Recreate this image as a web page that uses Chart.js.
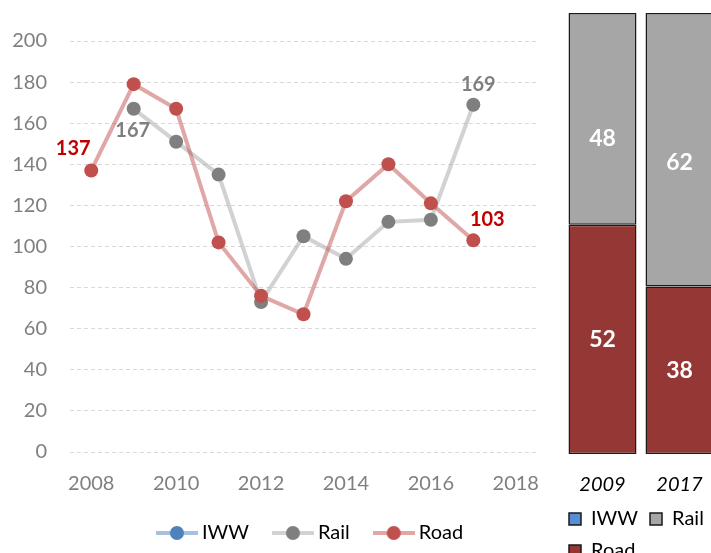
<!DOCTYPE html>
<html>
<head>
<meta charset="utf-8">
<script src="https://cdn.jsdelivr.net/npm/chart.js@4"></script>
<style>
  html, body { margin: 0; padding: 0; background: #fff; overflow: hidden; width: 711px; height: 553px; }
  canvas { position: absolute; top: 0; }
  #trendChart { left: 0; }
  #shareChart { left: 555px; }
</style>
</head>
<body>
<canvas id="trendChart" width="625" height="553"></canvas>
<canvas id="shareChart" width="200" height="553"></canvas>
<script>
// line chart data (left)
const years = ["2008", "2009", "2010", "2011", "2012", "2013", "2014", "2015", "2016", "2017", "2018"];
const iwwValues = [null, null, null, null, null, null, null, null, null, null, null];
const railValues = [null, 167, 151, 135, 73, 105, 94, 112, 113, 169, null];
const roadValues = [137, 179, 167, 102, 76, 67, 122, 140, 121, 103, null];
const yTicks = [0, 20, 40, 60, 80, 100, 120, 140, 160, 180, 200];

// share bars data (right)
const shareYears = ["2009", "2017"];
const iwwShare = [null, null];
const railShare = [48, 62];
const roadShare = [52, 38];

const FONT = "Lato, 'Open Sans', sans-serif";

// small line+dot icons for the line chart legend
function legendIcon(lineColor, dotColor) {
    const c = document.createElement("canvas");
    c.width = 42; c.height = 16;
    const ctx = c.getContext("2d");
    ctx.strokeStyle = lineColor;
    ctx.lineWidth = 4;
    ctx.beginPath(); ctx.moveTo(0, 8); ctx.lineTo(42, 8); ctx.stroke();
    ctx.fillStyle = dotColor;
    ctx.beginPath(); ctx.arc(21, 8, 7, 0, Math.PI * 2); ctx.fill();
    return c;
}

const trendColors = [
    { line: "rgba(79,129,189,0.5)", dot: "#4F81BD" },
    { line: "rgba(166,166,166,0.5)", dot: "#7F7F7F" },
    { line: "rgba(192,80,77,0.5)", dot: "#C0504D" }
];
const icons = trendColors.map((c) => legendIcon(c.line, c.dot));

// value labels next to chosen points
const pointLabels = {
    id: "pointLabels",
    afterDatasetsDraw(chart, args, opts) {
        const ctx = chart.ctx;
        ctx.save();
        ctx.font = opts.font;
        ctx.textAlign = "center";
        ctx.textBaseline = "middle";
        opts.items.forEach((it) => {
            const el = chart.getDatasetMeta(it.dataset).data[it.index];
            const v = chart.data.datasets[it.dataset].data[it.index];
            if (!el || v == null) return;
            ctx.fillStyle = it.color;
            ctx.fillText(String(v), el.x + it.dx, el.y + it.dy);
        });
        ctx.restore();
    }
};

new Chart(document.getElementById("trendChart").getContext("2d"), {
    type: "line",
    data: {
        labels: years,
        datasets: [
            { label: "IWW", data: iwwValues, order: 2 },
            { label: "Rail", data: railValues, order: 1 },
            { label: "Road", data: roadValues, order: 0 }
        ].map((d, i) => Object.assign(d, {
            borderColor: trendColors[i].line,
            backgroundColor: trendColors[i].dot,
            pointBackgroundColor: trendColors[i].dot,
            pointBorderWidth: 0,
            pointRadius: 7,
            borderWidth: 4,
            tension: 0,
            spanGaps: false
        }))
    },
    options: {
        responsive: false,
        animation: false,
        layout: { padding: { left: 0, right: 0, top: 41, bottom: 0 } },
        scales: {
            x: {
                offset: true,
                grid: { display: false },
                border: { display: false },
                ticks: {
                    autoSkip: false,
                    maxRotation: 0,
                    padding: 12,
                    color: "#7F7F7F",
                    font: { family: FONT, size: 20 },
                    callback: (v, i) => (i % 2 === 0 ? years[i] : "")
                },
                afterFit: (s) => { s.height = 42; }
            },
            y: {
                min: 0,
                max: 200,
                border: { display: false, dash: [4, 3] },
                grid: { color: "#D9D9D9", drawTicks: false },
                ticks: {
                    padding: 23,
                    color: "#7F7F7F",
                    font: { family: FONT, size: 20 }
                },
                afterBuildTicks: (s) => { s.ticks = yTicks.map((v) => ({ value: v })); },
                afterFit: (s) => { s.width = 70; }
            },
            spare: {
                position: "right",
                display: true,
                grid: { display: false },
                border: { display: false },
                ticks: { display: false },
                afterFit: (s) => { s.width = 88; }
            }
        },
        plugins: {
            tooltip: { enabled: false },
            legend: {
                position: "bottom",
                labels: {
                    usePointStyle: true,
                    pointStyleWidth: 30,
                    padding: 29,
                    color: "#000",
                    font: { family: FONT, size: 20 },
                    sort: (a, b) => a.datasetIndex - b.datasetIndex,
                    generateLabels: (chart) => Chart.defaults.plugins.legend.labels.generateLabels(chart)
                        .map((item) => Object.assign(item, { pointStyle: icons[item.datasetIndex] }))
                }
            },
            pointLabels: {
                font: "bold 20px " + FONT,
                items: [
                    { dataset: 2, index: 0, dx: -18, dy: -22, color: "#C00000" },
                    { dataset: 1, index: 1, dx: -1, dy: 22, color: "#7F7F7F" },
                    { dataset: 1, index: 9, dx: 5, dy: -20, color: "#7F7F7F" },
                    { dataset: 2, index: 9, dx: 14, dy: -21, color: "#C00000" }
                ]
            }
        }
    },
    plugins: [pointLabels]
});

// white numbers inside the share bars
const barLabels = {
    id: "barLabels",
    afterDatasetsDraw(chart, args, opts) {
        const ctx = chart.ctx;
        ctx.save();
        ctx.font = opts.font;
        ctx.fillStyle = "#fff";
        ctx.textAlign = "center";
        ctx.textBaseline = "middle";
        chart.data.datasets.forEach((ds, di) => {
            chart.getDatasetMeta(di).data.forEach((bar, i) => {
                const v = ds.data[i];
                if (v == null) return;
                const shift = (opts.shift[ds.label] || [])[i] || 0;
                ctx.fillText(String(v), bar.x, (bar.y + bar.base) / 2 + shift);
            });
        });
        ctx.restore();
    }
};

const legendOrder = ["IWW", "Rail", "Road"];

new Chart(document.getElementById("shareChart").getContext("2d"), {
    type: "bar",
    data: {
        labels: shareYears,
        datasets: [
            { label: "Road", data: roadShare, backgroundColor: "#953735" },
            { label: "Rail", data: railShare, backgroundColor: "#A6A6A6" },
            { label: "IWW", data: iwwShare, backgroundColor: "#558ED5" }
        ].map((d) => Object.assign(d, {
            borderColor: "#1A1A1A",
            borderWidth: 1.5,
            borderSkipped: false,
            barPercentage: 0.883,
            categoryPercentage: 1
        }))
    },
    options: {
        responsive: false,
        animation: false,
        layout: { padding: { left: 2, right: 37, top: 13, bottom: -18 } },
        scales: {
            x: {
                stacked: true,
                grid: { display: false },
                border: { display: false },
                ticks: {
                    padding: 11,
                    color: "#000",
                    font: { family: FONT, size: 20, style: "italic" }
                },
                afterFit: (s) => { s.height = 43; }
            },
            y: {
                stacked: true,
                min: 0,
                max: 100,
                grid: { display: false },
                border: { display: false },
                ticks: { display: false },
                afterFit: (s) => { s.width = 7; }
            }
        },
        plugins: {
            tooltip: { enabled: false },
            legend: {
                position: "bottom",
                align: "start",
                labels: {
                    boxWidth: 12,
                    boxHeight: 12,
                    padding: 12,
                    color: "#000",
                    font: { family: FONT, size: 20 },
                    sort: (a, b) => legendOrder.indexOf(a.text) - legendOrder.indexOf(b.text)
                }
            },
            barLabels: {
                font: "bold 23px " + FONT,
                shift: { Rail: [20, 13] }
            }
        }
    },
    plugins: [barLabels]
});
</script>
</body>
</html>
